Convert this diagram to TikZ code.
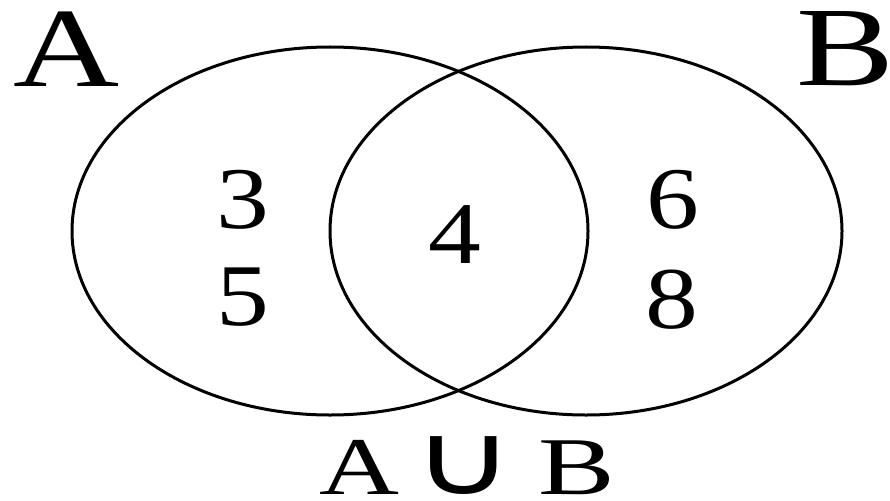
\documentclass[tikz,border=0pt]{standalone}
\usepackage{fontspec}
\usepackage{graphicx}
\setmainfont{Liberation Serif}
\newfontfamily\symfont{DejaVu Sans}
\begin{document}
\begin{tikzpicture}[x=1pt,y=-1pt,
  setline/.style={line width=3pt},
  biglabel/.style={inner sep=0pt,anchor=base,font=\fontsize{113}{113}\selectfont},
  numlabel/.style={inner sep=0pt,anchor=base,font=\fontsize{88}{88}\selectfont},
  unionlabel/.style={inner sep=0pt,anchor=base,font=\fontsize{82}{82}\selectfont}]
\useasboundingbox (0,0) rectangle (890,500);
\draw[setline] (330,231) ellipse [x radius=258, y radius=184];
\draw[setline] (586,231) ellipse [x radius=256, y radius=184];
\node[biglabel] (la) at (67,87) {\scalebox{1.3}[1]{A}};
\node[biglabel] (lb) at (845,85) {\scalebox{1.3}[1]{B}};
\node[numlabel] (n3) at (243,228) {\scalebox{1.2}[1]{3}};
\node[numlabel] (n5) at (243,325) {\scalebox{1.2}[1]{5}};
\node[numlabel] (n4) at (455,263) {\scalebox{1.2}[1]{4}};
\node[numlabel] (n6) at (673,228) {\scalebox{1.2}[1]{6}};
\node[numlabel] (n8) at (672,328) {\scalebox{1.2}[1]{8}};
\node[unionlabel] (ua) at (359,494) {\scalebox{1.35}[1]{A}};
\node[unionlabel,font=\fontsize{100}{100}\selectfont] (uu) at (464,494) {\symfont\scalebox{1.4}[1]{∪}};
\node[unionlabel] (ub) at (577,494) {\scalebox{1.4}[1]{B}};
\end{tikzpicture}
\end{document}
